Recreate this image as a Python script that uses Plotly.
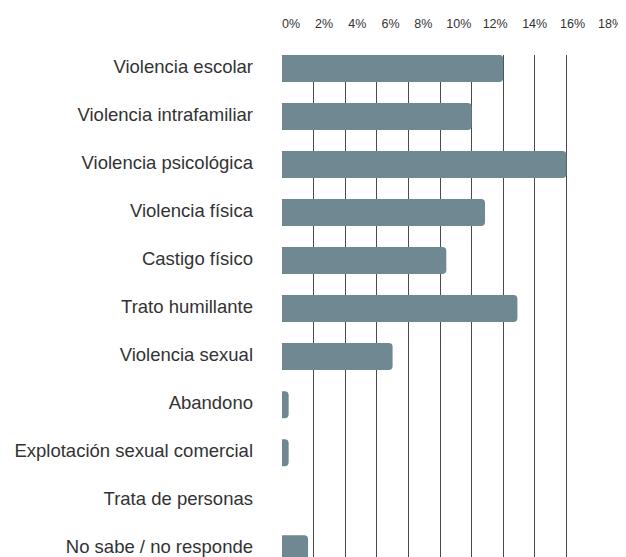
import plotly.graph_objects as go

categories = [
    "Violencia escolar",
    "Violencia intrafamiliar",
    "Violencia psicológica",
    "Violencia física",
    "Castigo físico",
    "Trato humillante",
    "Violencia sexual",
    "Abandono",
    "Explotación sexual comercial",
    "Trata de personas",
    "No sabe / no responde",
]
values = [14.0, 12.0, 18.0, 12.85, 10.4, 14.9, 7.0, 0.42, 0.42, 0.0, 1.65]

grid_vals = [0, 2, 4, 6, 8, 10, 12, 14, 16, 18, 20]
label_text = ["0%", "2%", "4%", "6%", "8%", "10%", "12%", "14%", "16%", "18%"]
label_pos = [0, 2.09, 4.2, 6.3, 8.37, 10.4, 12.7, 15.2, 17.6, 20.0]

FONT = "Liberation Sans, Arial, sans-serif"

fig = go.Figure()
fig.add_trace(go.Bar(
    y=categories, x=values, orientation="h",
    marker=dict(color="#6f8891", line=dict(width=0)),
    hoverinfo="x+y",
))
fig.add_trace(go.Scatter(x=[0, 20], y=[categories[0], categories[0]], xaxis="x2",
                         mode="markers", marker=dict(opacity=0), hoverinfo="skip",
                         showlegend=False))

# the page body adds an 8px offset, so margins are compensated
fig.update_layout(
    width=626, height=557,
    margin=dict(l=274, r=36, t=47, b=8, autoexpand=False),
    paper_bgcolor="white", plot_bgcolor="white",
    showlegend=False,
    bargap=0.4375,
    barcornerradius=4,
    font=dict(family=FONT, color="#333333"),
    xaxis=dict(
        range=[0, 20], tickvals=grid_vals, showticklabels=False,
        showgrid=True, gridcolor="#4a4a4a", gridwidth=1,
        zeroline=False, showline=False, ticks="", automargin=False,
        fixedrange=True,
    ),
    xaxis2=dict(
        overlaying="x", side="top", range=[0, 20],
        tickvals=label_pos, ticktext=label_text,
        ticklabelposition="outside right",
        showgrid=False, zeroline=False, showline=False, ticks="",
        ticklabelstandoff=24, automargin=False,
        tickfont=dict(family=FONT, size=12.5, color="#333333"),
        fixedrange=True,
    ),
    yaxis=dict(
        categoryorder="array", categoryarray=categories,
        range=[10.173, -0.281],
        showgrid=False, zeroline=False, showline=False, ticks="",
        ticklabelstandoff=28, ticklabelshift=2, automargin=False,
        tickfont=dict(family=FONT, size=18.5, color="#333333"),
        fixedrange=True,
    ),
)

fig.write_html("out.html")
